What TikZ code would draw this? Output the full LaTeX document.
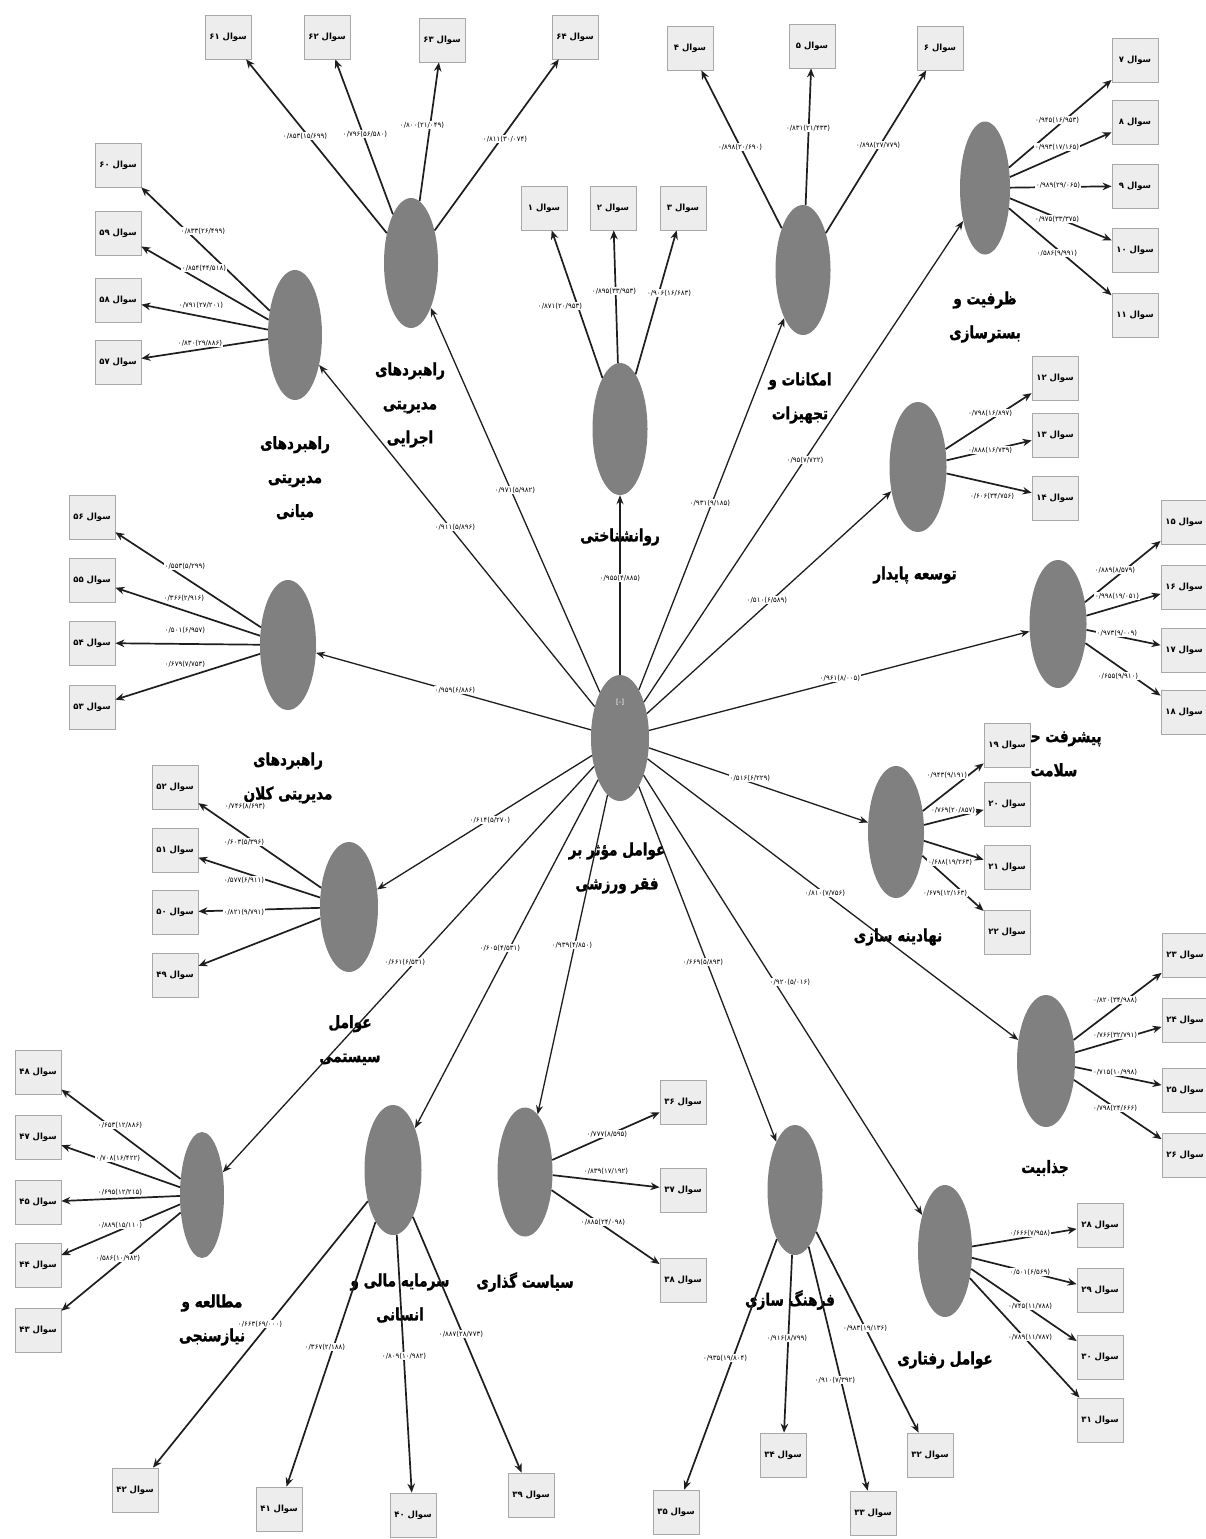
\documentclass[tikz,border=0pt]{standalone}
\usepackage{fontspec}
\usetikzlibrary{arrows.meta,shapes.geometric,shadows}
\newfontfamily\fa{DejaVu Sans}[Script=Arabic]
\newfontfamily\fab{DejaVu Sans}[Script=Arabic,BoldFeatures={FakeBold=1.3,FakeStretch=0.8}]
\newfontfamily\fanum{DejaVu Sans}
\TeXXeTstate=1
\newcommand\rtlx[1]{\beginR #1\endR}
\newcommand\sual[1]{\beginR سوال #1\endR}
\newcommand\nm[2]{{\fanum\mbox{#1}\mbox{(}\mbox{#2}\mbox{)}}}
\definecolor{latgray}{HTML}{808080}
\definecolor{boxfill}{HTML}{EDEDED}
\definecolor{boxline}{HTML}{A8A8A8}
\definecolor{ink}{HTML}{1E1E1E}
\begin{document}
\begin{tikzpicture}[x=1pt,y=-1pt,
  lat/.style={ellipse,fill=latgray,draw=none,minimum width=55pt,minimum height=130pt,inner sep=0pt},
  qbox/.style={rectangle,draw=boxline,fill=boxfill,line width=0.8pt,minimum width=46pt,minimum height=44pt,inner sep=1pt,font=\fa\bfseries\fontsize{8.5}{9}\selectfont,drop shadow={shadow xshift=0.8pt,shadow yshift=-1.2pt,fill=black!25}},
  ttl/.style={font=\fab\bfseries\fontsize{17}{34}\selectfont,align=center,inner sep=0pt},
  ld/.style={font=\fanum\fontsize{7}{8}\selectfont,fill=white,inner sep=0.6pt},
  refl/.style={draw=ink,line width=1.7pt,-{Stealth[length=9pt,width=7.5pt]}},
  pth/.style={draw=ink,line width=1.3pt,-{Stealth[length=9pt,width=7pt]}},
]
\fill[white] (0,0) rectangle (1205,1539);
\useasboundingbox (0,0) rectangle (1205,1539);

% ---------- latent labels ----------
\node[ttl] (t-ej) at (410,405) {\rtlx{راهبردهای}\\\rtlx{مدیریتی}\\\rtlx{اجرایی}};
\node[ttl] (t-mi) at (295,478) {\rtlx{راهبردهای}\\\rtlx{مدیریتی}\\\rtlx{میانی}};
\node[ttl] (t-ps) at (620,537) {\rtlx{روانشناختی}};
\node[ttl] (t-em) at (800,398) {\rtlx{امکانات و}\\\rtlx{تجهیزات}};
\node[ttl] (t-zb) at (985,317) {\rtlx{ظرفیت و}\\\rtlx{بسترسازی}};
\node[ttl] (t-tp) at (915,575) {\rtlx{توسعه پایدار}};
\node[ttl] (t-ph) at (1054,754) {\rtlx{پیشرفت حوزه}\\\rtlx{سلامت}};
\node[ttl] (t-nh) at (898,937) {\rtlx{نهادینه سازی}};
\node[ttl] (t-jz) at (1045,1168) {\rtlx{جذابیت}};
\node[ttl] (t-rf) at (945,1360) {\rtlx{عوامل رفتاری}};
\node[ttl] (t-fs) at (790,1300) {\rtlx{فرهنگ سازی}};
\node[ttl] (t-sg) at (525,1282) {\rtlx{سیاست گذاری}};
\node[ttl] (t-sm) at (400,1298) {\rtlx{سرمایه مالی و}\\\rtlx{انسانی}};
\node[ttl] (t-mn) at (212,1320) {\rtlx{مطالعه و}\\\rtlx{نیازسنجی}};
\node[ttl] (t-ss) at (350,1040) {\rtlx{عوامل}\\\rtlx{سیستمی}};
\node[ttl] (t-kl) at (288,778) {\rtlx{راهبردهای}\\\rtlx{مدیریتی کلان}};
\node[ttl] (t-c) at (617,868) {\rtlx{عوامل مؤثر بر}\\\rtlx{فقر ورزشی}};

% ---------- latent ellipses ----------
\node[lat,minimum width=58pt,minimum height=126pt] (c) at (620,738) {};
\node[font=\fanum\fontsize{7}{8}\selectfont,text=white] (cm) at (620,702) {[-]};
\node[lat,minimum width=54pt] (ej) at (411,263) {};
\node[lat,minimum width=54pt] (mi) at (295,335) {};
\node[lat,minimum height=132pt] (ps) at (620,429) {};
\node[lat] (em) at (803,270) {};
\node[lat,minimum width=50pt,minimum height=133pt] (zb) at (985,188) {};
\node[lat,minimum width=57pt] (tp) at (918,467) {};
\node[lat,minimum width=57pt,minimum height=128pt] (ph) at (1058,624) {};
\node[lat,minimum width=56pt,minimum height=132pt] (nh) at (896,832) {};
\node[lat,minimum width=58pt,minimum height=132pt] (jz) at (1046,1061) {};
\node[lat,minimum width=54pt,minimum height=132pt] (rf) at (945,1251) {};
\node[lat] (fs) at (795,1190) {};
\node[lat,minimum height=129pt] (sg) at (525,1172) {};
\node[lat,minimum width=57pt] (sm) at (393,1170) {};
\node[lat,minimum width=44pt,minimum height=126pt] (mn) at (202,1195) {};
\node[lat,minimum width=58pt] (ss) at (349,907) {};
\node[lat,minimum width=56pt] (kl) at (288,645) {};

% ---------- indicator boxes ----------
\node[qbox] (q61) at (228,37) {\sual{۶۱}};
\node[qbox] (q62) at (327,37) {\sual{۶۲}};
\node[qbox] (q63) at (442,40) {\sual{۶۳}};
\node[qbox] (q64) at (575,37) {\sual{۶۴}};
\node[qbox] (q1) at (544,208) {\sual{۱}};
\node[qbox] (q2) at (613,208) {\sual{۲}};
\node[qbox] (q3) at (683,208) {\sual{۳}};
\node[qbox] (q4) at (690,48) {\sual{۴}};
\node[qbox] (q5) at (812,46) {\sual{۵}};
\node[qbox] (q6) at (940,48) {\sual{۶}};
\node[qbox] (q7) at (1135,60) {\sual{۷}};
\node[qbox] (q8) at (1135,122) {\sual{۸}};
\node[qbox] (q9) at (1135,186) {\sual{۹}};
\node[qbox] (q10) at (1135,250) {\sual{۱۰}};
\node[qbox] (q11) at (1135,315) {\sual{۱۱}};
\node[qbox] (q12) at (1055,378) {\sual{۱۲}};
\node[qbox] (q13) at (1055,435) {\sual{۱۳}};
\node[qbox] (q14) at (1055,498) {\sual{۱۴}};
\node[qbox] (q15) at (1184,522) {\sual{۱۵}};
\node[qbox] (q16) at (1184,587) {\sual{۱۶}};
\node[qbox] (q17) at (1184,650) {\sual{۱۷}};
\node[qbox] (q18) at (1184,712) {\sual{۱۸}};
\node[qbox] (q19) at (1007,745) {\sual{۱۹}};
\node[qbox] (q20) at (1007,804) {\sual{۲۰}};
\node[qbox] (q21) at (1007,867) {\sual{۲۱}};
\node[qbox] (q22) at (1007,932) {\sual{۲۲}};
\node[qbox] (q23) at (1185,955) {\sual{۲۳}};
\node[qbox] (q24) at (1185,1020) {\sual{۲۴}};
\node[qbox] (q25) at (1185,1090) {\sual{۲۵}};
\node[qbox] (q26) at (1185,1155) {\sual{۲۶}};
\node[qbox] (q28) at (1100,1225) {\sual{۲۸}};
\node[qbox] (q29) at (1100,1290) {\sual{۲۹}};
\node[qbox] (q30) at (1100,1357) {\sual{۳۰}};
\node[qbox] (q31) at (1100,1420) {\sual{۳۱}};
\node[qbox] (q32) at (930,1455) {\sual{۳۲}};
\node[qbox] (q33) at (873,1513) {\sual{۳۳}};
\node[qbox] (q34) at (783,1455) {\sual{۳۴}};
\node[qbox] (q35) at (676,1512) {\sual{۳۵}};
\node[qbox] (q36) at (683,1102) {\sual{۳۶}};
\node[qbox] (q37) at (683,1190) {\sual{۳۷}};
\node[qbox] (q38) at (683,1280) {\sual{۳۸}};
\node[qbox] (q39) at (531,1495) {\sual{۳۹}};
\node[qbox] (q40) at (413,1515) {\sual{۴۰}};
\node[qbox] (q41) at (279,1509) {\sual{۴۱}};
\node[qbox] (q42) at (135,1490) {\sual{۴۲}};
\node[qbox] (q48) at (38,1072) {\sual{۴۸}};
\node[qbox] (q47) at (38,1137) {\sual{۴۷}};
\node[qbox] (q45) at (38,1202) {\sual{۴۵}};
\node[qbox] (q44) at (38,1265) {\sual{۴۴}};
\node[qbox] (q43) at (38,1330) {\sual{۴۳}};
\node[qbox] (q52) at (175,787) {\sual{۵۲}};
\node[qbox] (q51) at (175,850) {\sual{۵۱}};
\node[qbox] (q50) at (175,912) {\sual{۵۰}};
\node[qbox] (q49) at (175,975) {\sual{۴۹}};
\node[qbox] (q56) at (92,517) {\sual{۵۶}};
\node[qbox] (q55) at (92,580) {\sual{۵۵}};
\node[qbox] (q54) at (92,643) {\sual{۵۴}};
\node[qbox] (q53) at (92,707) {\sual{۵۳}};
\node[qbox] (q60) at (118,165) {\sual{۶۰}};
\node[qbox] (q59) at (118,233) {\sual{۵۹}};
\node[qbox] (q58) at (118,300) {\sual{۵۸}};
\node[qbox] (q57) at (118,362) {\sual{۵۷}};

% ---------- structural paths ----------
\foreach \t in {ej,mi,ps,em,zb,tp,ph,nh,jz,rf,fs,sg,sm,mn,ss,kl}
  \draw[pth] (c) -- (\t);

% ---------- measurement arrows ----------
\foreach \q in {q61,q62,q63,q64} \draw[refl] (ej) -- (\q);
\foreach \q in {q1,q2,q3} \draw[refl] (ps) -- (\q);
\foreach \q in {q4,q5,q6} \draw[refl] (em) -- (\q);
\foreach \q in {q7,q8,q9,q10,q11} \draw[refl] (zb) -- (\q);
\foreach \q in {q12,q13,q14} \draw[refl] (tp) -- (\q);
\foreach \q in {q15,q16,q17,q18} \draw[refl] (ph) -- (\q);
\foreach \q in {q19,q20,q21,q22} \draw[refl] (nh) -- (\q);
\foreach \q in {q23,q24,q25,q26} \draw[refl] (jz) -- (\q);
\foreach \q in {q28,q29,q30,q31} \draw[refl] (rf) -- (\q);
\foreach \q in {q32,q33,q34,q35} \draw[refl] (fs) -- (\q);
\foreach \q in {q36,q37,q38} \draw[refl] (sg) -- (\q);
\foreach \q in {q39,q40,q41,q42} \draw[refl] (sm) -- (\q);
\foreach \q in {q48,q47,q45,q44,q43} \draw[refl] (mn) -- (\q);
\foreach \q in {q52,q51,q50,q49} \draw[refl] (ss) -- (\q);
\foreach \q in {q56,q55,q54,q53} \draw[refl] (kl) -- (\q);
\foreach \q in {q60,q59,q58,q57} \draw[refl] (mi) -- (\q);

% ---------- path coefficients ----------
\node[ld] (p-mi) at (455,527) {\nm{۰/۹۱۱}{۵/۸۹۶}};
\node[ld] (p-ej) at (515,490) {\nm{۰/۹۷۱}{۵/۹۸۲}};
\node[ld] (p-ps) at (620,578) {\nm{۰/۹۵۵}{۴/۸۸۵}};
\node[ld] (p-em) at (710,503) {\nm{۰/۹۳۱}{۹/۱۸۵}};
\node[ld] (p-zb) at (805,460) {\nm{۰/۹۵}{۷/۷۲۲}};
\node[ld] (p-tp) at (767,600) {\nm{۰/۵۱۰}{۶/۵۸۹}};
\node[ld] (p-ph) at (840,678) {\nm{۰/۹۶۱}{۸/۰۰۵}};
\node[ld] (p-nh) at (750,778) {\nm{۰/۵۱۶}{۶/۲۲۹}};
\node[ld] (p-jz) at (825,893) {\nm{۰/۸۱۰}{۷/۷۵۶}};
\node[ld] (p-rf) at (790,982) {\nm{۰/۹۲۰}{۵/۰۱۶}};
\node[ld] (p-fs) at (703,962) {\nm{۰/۶۶۹}{۵/۸۹۳}};
\node[ld] (p-sg) at (572,945) {\nm{۰/۹۳۹}{۴/۸۵۰}};
\node[ld] (p-sm) at (500,948) {\nm{۰/۶۰۵}{۴/۵۳۱}};
\node[ld] (p-mn) at (405,962) {\nm{۰/۶۶۱}{۶/۵۳۱}};
\node[ld] (p-ss) at (490,820) {\nm{۰/۶۱۴}{۵/۲۷۰}};
\node[ld] (p-kl) at (455,690) {\nm{۰/۹۵۹}{۶/۸۸۶}};

% ---------- loadings ----------
\node[ld] at (305,136) {\nm{۰/۸۵۳}{۱۵/۶۹۹}};
\node[ld] at (365,134) {\nm{۰/۷۹۶}{۵۶/۵۸۰}};
\node[ld] at (422,125) {\nm{۰/۸۰۰}{۲۱/۰۴۹}};
\node[ld] at (505,139) {\nm{۰/۸۱۱}{۳۰/۰۷۴}};
\node[ld] at (560,306) {\nm{۰/۸۷۱}{۲۰/۹۵۳}};
\node[ld] at (614,291) {\nm{۰/۸۹۵}{۳۳/۹۵۳}};
\node[ld] at (669,293) {\nm{۰/۹۰۶}{۱۶/۶۸۳}};
\node[ld] at (740,147) {\nm{۰/۸۹۸}{۲۰/۶۹۰}};
\node[ld] at (808,128) {\nm{۰/۸۳۱}{۲۱/۴۳۳}};
\node[ld] at (878,145) {\nm{۰/۸۹۸}{۲۷/۷۷۹}};
\node[ld] at (1057,120) {\nm{۰/۹۴۵}{۱۶/۹۵۳}};
\node[ld] at (1057,147) {\nm{۰/۹۹۳}{۱۷/۱۶۵}};
\node[ld] at (1058,185) {\nm{۰/۹۸۹}{۲۹/۰۶۵}};
\node[ld] at (1057,219) {\nm{۰/۹۷۵}{۳۳/۳۷۵}};
\node[ld] at (1057,253) {\nm{۰/۵۸۶}{۹/۹۹۱}};
\node[ld] at (990,413) {\nm{۰/۷۹۸}{۱۶/۸۹۷}};
\node[ld] at (990,450) {\nm{۰/۸۸۸}{۱۶/۷۳۹}};
\node[ld] at (992,496) {\nm{۰/۶۰۶}{۳۴/۷۵۶}};
\node[ld] at (1115,570) {\nm{۰/۸۸۹}{۸/۵۷۹}};
\node[ld] at (1117,596) {\nm{۰/۹۹۸}{۱۹/۰۵۱}};
\node[ld] at (1117,633) {\nm{۰/۹۷۳}{۹/۰۰۹}};
\node[ld] at (1118,676) {\nm{۰/۶۵۵}{۹/۹۱۰}};
\node[ld] at (947,775) {\nm{۰/۹۴۳}{۹/۱۹۱}};
\node[ld] at (953,810) {\nm{۰/۷۶۹}{۲۰/۸۵۷}};
\node[ld] at (950,862) {\nm{۰/۶۸۸}{۱۹/۲۶۳}};
\node[ld] at (945,893) {\nm{۰/۶۷۹}{۱۲/۱۶۳}};
\node[ld] at (1115,1000) {\nm{۰/۸۲۰}{۳۴/۹۸۸}};
\node[ld] at (1115,1035) {\nm{۰/۷۶۶}{۳۲/۷۹۱}};
\node[ld] at (1115,1072) {\nm{۰/۷۱۵}{۱۰/۹۹۸}};
\node[ld] at (1115,1108) {\nm{۰/۷۹۸}{۲۴/۶۶۶}};
\node[ld] at (1030,1233) {\nm{۰/۶۶۶}{۷/۹۵۸}};
\node[ld] at (1030,1272) {\nm{۰/۵۰۱}{۶/۵۶۹}};
\node[ld] at (1030,1306) {\nm{۰/۷۴۵}{۱۱/۷۸۸}};
\node[ld] at (1030,1337) {\nm{۰/۷۸۹}{۱۱/۷۸۷}};
\node[ld] at (725,1358) {\nm{۰/۹۳۵}{۱۹/۸۰۴}};
\node[ld] at (787,1338) {\nm{۰/۹۱۶}{۸/۷۹۹}};
\node[ld] at (835,1380) {\nm{۰/۹۱۰}{۷/۳۹۲}};
\node[ld] at (865,1328) {\nm{۰/۹۸۳}{۱۹/۱۳۶}};
\node[ld] at (607,1134) {\nm{۰/۷۷۷}{۸/۵۹۵}};
\node[ld] at (606,1171) {\nm{۰/۸۳۹}{۱۷/۱۹۲}};
\node[ld] at (603,1222) {\nm{۰/۸۸۵}{۲۴/۰۹۸}};
\node[ld] at (260,1324) {\nm{۰/۶۶۳}{۶۹/۰۰۰}};
\node[ld] at (325,1347) {\nm{۰/۳۶۷}{۲/۱۸۸}};
\node[ld] at (404,1356) {\nm{۰/۸۰۹}{۱۰/۹۸۲}};
\node[ld] at (461,1334) {\nm{۰/۸۸۷}{۲۸/۷۷۳}};
\node[ld] at (120,1125) {\nm{۰/۶۵۳}{۱۲/۸۸۶}};
\node[ld] at (118,1158) {\nm{۰/۷۰۸}{۱۶/۴۲۲}};
\node[ld] at (120,1192) {\nm{۰/۶۹۵}{۱۲/۲۱۵}};
\node[ld] at (120,1225) {\nm{۰/۸۸۹}{۱۵/۱۱۰}};
\node[ld] at (118,1258) {\nm{۰/۵۸۶}{۱۰/۹۸۲}};
\node[ld] at (245,806) {\nm{۰/۷۴۶}{۸/۶۹۳}};
\node[ld] at (244,842) {\nm{۰/۶۰۳}{۵/۳۹۶}};
\node[ld] at (244,880) {\nm{۰/۵۷۷}{۶/۹۱۱}};
\node[ld] at (244,912) {\nm{۰/۸۲۱}{۹/۷۹۱}};
\node[ld] at (185,566) {\nm{۰/۵۵۳}{۵/۲۹۹}};
\node[ld] at (184,598) {\nm{۰/۳۶۶}{۲/۹۱۶}};
\node[ld] at (185,630) {\nm{۰/۵۰۱}{۶/۹۵۷}};
\node[ld] at (185,664) {\nm{۰/۶۷۹}{۷/۷۵۳}};
\node[ld] at (203,231) {\nm{۰/۸۳۳}{۲۶/۴۹۹}};
\node[ld] at (204,268) {\nm{۰/۸۵۴}{۴۴/۵۱۸}};
\node[ld] at (201,305) {\nm{۰/۷۹۱}{۲۷/۲۰۱}};
\node[ld] at (200,343) {\nm{۰/۸۳۰}{۲۹/۸۸۶}};
\end{tikzpicture}
\end{document}
